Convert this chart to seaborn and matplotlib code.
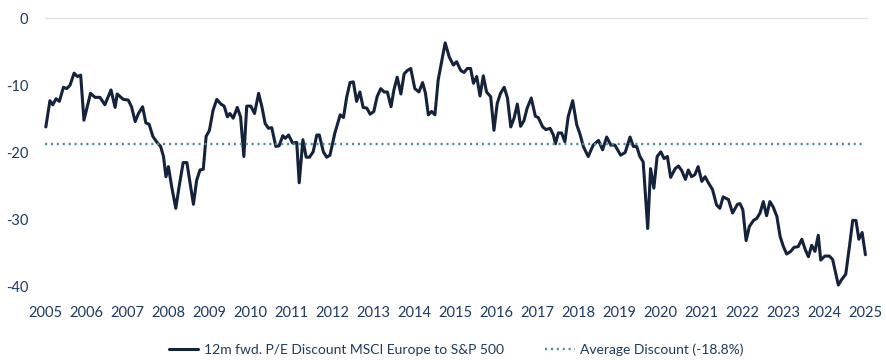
import pandas as pd
import numpy as np
import matplotlib
matplotlib.use("Agg")
import matplotlib.pyplot as plt
import seaborn as sns

# Data (decimal year, P/E discount in %)
years = [
    2005.02, 2005.12, 2005.19, 2005.27, 2005.35, 2005.45, 2005.53, 2005.61, 2005.71, 2005.79,
    2005.87, 2005.95, 2006.11, 2006.22, 2006.34, 2006.46, 2006.61, 2006.71, 2006.76, 2006.91,
    2007.03, 2007.11, 2007.20, 2007.28, 2007.38, 2007.46, 2007.54, 2007.63, 2007.72, 2007.82,
    2007.89, 2007.95, 2008.01, 2008.09, 2008.19, 2008.27, 2008.37, 2008.46, 2008.54, 2008.62,
    2008.70, 2008.78, 2008.86, 2008.93, 2009.01, 2009.10, 2009.19, 2009.29, 2009.37, 2009.45,
    2009.51, 2009.59, 2009.69, 2009.77, 2009.85, 2009.92, 2010.02, 2010.11, 2010.21, 2010.29,
    2010.37, 2010.45, 2010.53, 2010.63, 2010.71, 2010.80, 2010.86, 2010.94, 2011.04, 2011.14,
    2011.20, 2011.29, 2011.37, 2011.45, 2011.54, 2011.63, 2011.69, 2011.79, 2011.87, 2011.95,
    2012.07, 2012.20, 2012.28, 2012.36, 2012.44, 2012.52, 2012.60, 2012.68, 2012.76, 2012.85,
    2012.93, 2013.02, 2013.10, 2013.19, 2013.27, 2013.35, 2013.44, 2013.51, 2013.59, 2013.68,
    2013.76, 2013.84, 2013.92, 2014.02, 2014.12, 2014.21, 2014.28, 2014.35, 2014.43, 2014.51,
    2014.59, 2014.76, 2014.86, 2014.96, 2015.04, 2015.14, 2015.22, 2015.30, 2015.38, 2015.45,
    2015.53, 2015.61, 2015.69, 2015.77, 2015.87, 2015.95, 2016.03, 2016.11, 2016.20, 2016.28,
    2016.36, 2016.44, 2016.52, 2016.60, 2016.68, 2016.76, 2016.86, 2016.96, 2017.03, 2017.14,
    2017.22, 2017.32, 2017.40, 2017.45, 2017.52, 2017.60, 2017.68, 2017.76, 2017.87, 2017.97,
    2018.05, 2018.13, 2018.20, 2018.25, 2018.37, 2018.50, 2018.60, 2018.70, 2018.80, 2018.90,
    2019.04, 2019.15, 2019.27, 2019.35, 2019.43, 2019.51, 2019.59, 2019.70, 2019.77, 2019.85,
    2019.93, 2020.02, 2020.10, 2020.18, 2020.26, 2020.37, 2020.45, 2020.53, 2020.62, 2020.69,
    2020.77, 2020.85, 2020.93, 2021.02, 2021.10, 2021.18, 2021.28, 2021.38, 2021.46, 2021.54,
    2021.67, 2021.77, 2021.89, 2021.95, 2022.02, 2022.10, 2022.18, 2022.28, 2022.36, 2022.44,
    2022.52, 2022.60, 2022.68, 2022.76, 2022.85, 2022.93, 2023.01, 2023.09, 2023.19, 2023.27,
    2023.37, 2023.46, 2023.54, 2023.62, 2023.70, 2023.78, 2023.86, 2023.92, 2024.02, 2024.13,
    2024.21, 2024.27, 2024.35, 2024.43, 2024.53, 2024.62, 2024.70, 2024.78, 2024.85, 2024.93,
    2025.01,
]
discount = [
    -16.2, -12.3, -12.9, -12.0, -12.4, -10.3, -10.5, -10.0, -8.2, -8.7,
    -8.5, -15.2, -11.2, -11.8, -11.8, -12.9, -10.7, -13.3, -11.3, -12.1,
    -12.2, -13.2, -15.4, -14.2, -13.2, -15.6, -15.8, -17.6, -18.4, -19.1,
    -20.6, -23.6, -22.1, -25.1, -28.3, -25.1, -21.5, -21.5, -24.6, -27.7,
    -24.1, -22.6, -22.5, -17.6, -16.7, -13.7, -12.1, -12.8, -13.1, -14.7,
    -14.2, -14.9, -13.3, -14.7, -20.6, -13.1, -13.1, -14.2, -11.2, -13.2,
    -15.7, -16.4, -16.3, -19.1, -19.0, -17.5, -17.9, -17.4, -18.6, -18.5,
    -24.5, -18.1, -20.7, -20.7, -19.9, -17.4, -17.4, -19.9, -20.7, -20.4,
    -17.1, -14.4, -14.8, -11.7, -9.6, -9.5, -12.4, -11.0, -13.3, -13.4,
    -14.3, -13.9, -11.7, -10.5, -11.0, -11.0, -13.2, -10.7, -8.8, -11.3,
    -8.3, -7.8, -7.5, -10.5, -11.0, -9.6, -11.2, -14.4, -13.9, -14.4,
    -9.2, -3.7, -5.8, -7.0, -6.5, -7.8, -8.1, -7.5, -7.5, -9.7,
    -8.7, -11.6, -8.6, -11.0, -11.7, -16.7, -12.7, -11.2, -10.3, -11.9,
    -16.2, -14.9, -12.8, -16.1, -15.3, -13.4, -11.9, -14.6, -14.8, -16.2,
    -16.6, -16.4, -17.4, -18.7, -17.1, -17.1, -18.4, -14.7, -12.3, -15.9,
    -17.3, -19.1, -20.0, -20.6, -18.9, -18.2, -19.6, -17.7, -18.9, -18.9,
    -20.4, -20.0, -17.7, -19.1, -19.1, -20.6, -21.4, -31.3, -22.4, -25.3,
    -20.6, -19.9, -20.9, -20.6, -23.7, -22.4, -22.0, -22.7, -24.0, -22.6,
    -23.6, -23.3, -22.1, -24.3, -23.6, -24.5, -25.5, -27.8, -28.3, -26.6,
    -27.0, -29.0, -27.7, -27.6, -28.5, -33.1, -31.0, -30.1, -29.8, -29.0,
    -27.3, -29.4, -27.3, -28.1, -29.5, -32.5, -34.0, -35.1, -34.7, -34.1,
    -34.0, -32.9, -34.4, -35.5, -33.8, -34.7, -32.3, -36.0, -35.4, -35.4,
    -35.9, -37.5, -39.7, -38.9, -38.1, -34.0, -30.1, -30.1, -32.9, -31.9,
    -35.2,
]
avg_discount = -18.8
tick_years = list(range(2005, 2026))
y_ticks = [0, -10, -20, -30, -40]

series_label = "12m fwd. P/E Discount MSCI Europe to S&P 500"
avg_label = "Average Discount (-18.8%)"

navy = "#15223b"
teal = "#4f8d9c"
text_col = "#1d3a64"

df = pd.DataFrame({"year": years, "discount": discount})

sns.set_theme(style="white")
plt.rcParams["font.family"] = ["Lato", "DejaVu Sans"]

fig = plt.figure(figsize=(8.86, 3.6), dpi=100)
ax = fig.add_axes([45 / 886, 1 - 287 / 360, 820 / 886, 269 / 360])

# main series
sns.lineplot(data=df, x="year", y="discount", ax=ax, color=navy,
             linewidth=2.2, estimator=None, label=series_label, clip_on=False)
# average line
ax.axhline(avg_discount, xmin=0, xmax=0.996, color=teal, linewidth=1.7,
           linestyle=(0, (0.9, 1.6)), label=avg_label)

ax.set_xlim(2005, 2025)
ax.set_ylim(-40, 0)
ax.set_xticks(tick_years)
ax.set_xticklabels([str(y) for y in tick_years])
ax.set_yticks(y_ticks)
ax.set_yticklabels([str(v) for v in y_ticks])
ax.set_xlabel("")
ax.set_ylabel("")

for s in ["left", "right", "bottom"]:
    ax.spines[s].set_visible(False)
ax.spines["top"].set_color("#e4e4e4")
ax.spines["top"].set_linewidth(1.0)
ax.spines["top"].set_bounds(2005, 2025.05)

ax.tick_params(axis="both", length=0, labelsize=10.5, colors=text_col)
ax.tick_params(axis="x", pad=14)
ax.tick_params(axis="y", pad=12)

ax.get_legend().remove()
handles, labels = ax.get_legend_handles_labels()
leg = fig.legend(handles, labels, loc="center", bbox_to_anchor=(0.515, 1 - 350 / 360),
                 ncol=2, frameon=False, fontsize=10, handlelength=2.1,
                 handletextpad=0.4, columnspacing=3.0)
for t in leg.get_texts():
    t.set_color(text_col)

fig.savefig("out.png", dpi=100)
